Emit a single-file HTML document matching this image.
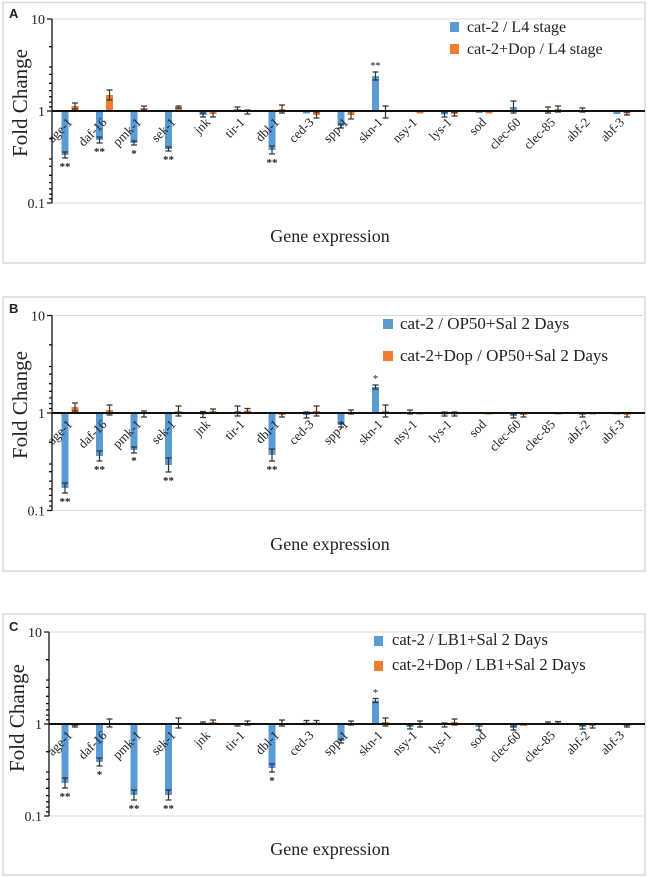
<!DOCTYPE html>
<html><head><meta charset="utf-8"><style>
html,body{margin:0;padding:0;background:#fff}
svg{display:block}
text{font-family:"Liberation Serif",serif;fill:#222}
.lab{font-size:13px}
.st{font-size:11px;font-weight:bold}
.bl{fill:#5b9bd5}.or{fill:#ed7d31}
.er{stroke:#333;stroke-width:1.2;fill:none}
</style></head><body>
<svg width="648" height="878" viewBox="0 0 648 878" xmlns="http://www.w3.org/2000/svg">
<!-- frames -->
<rect x="3" y="2.5" width="642" height="260.5" fill="none" stroke="#d9d9d9" stroke-width="1.5"/>
<rect x="3" y="297" width="642" height="274" fill="none" stroke="#d9d9d9" stroke-width="1.5"/>
<rect x="3" y="614" width="642" height="261" fill="none" stroke="#d9d9d9" stroke-width="1.5"/>

<!-- ============ PANEL A ============ -->
<text x="9" y="18" style="font-family:'Liberation Sans',sans-serif;font-weight:bold;font-size:13px">A</text>
<g transform="translate(0,111)">
<line x1="52" y1="-92" x2="643" y2="-92" stroke="#d9d9d9"/>
<line x1="52" y1="92" x2="643" y2="92" stroke="#d9d9d9"/>
<path d="M52 -92V92M47 -92h5M47 0h5M47 92h5M49 -64.3h3M49 -44h3M49 -36.6h3M49 -27.7h3M49 -20.4h3M49 -14.2h3M49 -8.9h3M49 -4.2h3M49 27.7h3M49 48h3M49 55.4h3M49 64.3h3M49 71.6h3M49 77.8h3M49 83.1h3M49 87.8h3" stroke="#111" stroke-width="1.3" fill="none"/>
<text x="45" y="-87" text-anchor="end" font-size="14">10</text>
<text x="45" y="5" text-anchor="end" font-size="14">1</text>
<text x="45" y="97" text-anchor="end" font-size="14">0.1</text>
<text transform="translate(27,-8) rotate(-90)" text-anchor="middle" font-size="21">Fold Change</text>
<!-- bars -->
<rect class="bl" x="61.5" y="0" width="7" height="44"/><path class="er" d="M62 41h6M65 41V47M62 47h6"/>
<rect class="or" x="71.5" y="-5" width="7" height="5"/><path class="er" d="M72 -8h6M75 -8V-2M72 -2h6"/>
<rect class="bl" x="96" y="0" width="7" height="29"/><path class="er" d="M96.5 26h6M99.5 26V32M96.5 32h6"/>
<rect class="or" x="106" y="-16" width="7" height="16"/><path class="er" d="M106.5 -21h6M109.5 -21V-11M106.5 -11h6"/>
<rect class="bl" x="130.5" y="0" width="7" height="32"/><path class="er" d="M131 30h6M134 30V34M131 34h6"/>
<rect class="or" x="140.5" y="-3" width="7" height="3"/><path class="er" d="M141 -5h6M144 -5V-1M141 -1h6"/>
<rect class="bl" x="165" y="0" width="7" height="38"/><path class="er" d="M165.5 36h6M168.5 36V40M165.5 40h6"/>
<rect class="or" x="175" y="-4" width="7" height="4"/><path class="er" d="M175.5 -5h6M178.5 -5V-3M175.5 -3h6"/>
<rect class="bl" x="199.5" y="0" width="7" height="4"/><path class="er" d="M200 2h6M203 2V6M200 6h6"/>
<rect class="or" x="209.5" y="0" width="7" height="3"/><path class="er" d="M210 0h6M213 0V6M210 6h6"/>
<rect class="bl" x="234" y="-2" width="7" height="2"/><path class="er" d="M234.5 -4h6M237.5 -4V0M234.5 0h6"/>
<rect class="or" x="244" y="0" width="7" height="1"/><path class="er" d="M244.5 -1h6M247.5 -1V3M244.5 3h6"/>
<rect class="bl" x="268.5" y="0" width="7" height="39"/><path class="er" d="M269 35h6M272 35V43M269 43h6"/>
<rect class="or" x="278.5" y="-2" width="7" height="2"/><path class="er" d="M279 -6h6M282 -6V2M279 2h6"/>
<rect class="bl" x="303" y="0" width="7" height="2.5"/>
<rect class="or" x="313" y="0" width="7" height="4"/><path class="er" d="M313.5 1h6M316.5 1V7M313.5 7h6"/>
<rect class="bl" x="337.5" y="0" width="7" height="15"/><path class="er" d="M338 13h6M341 13V17M338 17h6"/>
<rect class="or" x="347.5" y="0" width="7" height="4"/><path class="er" d="M348 0h6M351 0V8M348 8h6"/>
<rect class="bl" x="372" y="-35" width="7" height="35"/><path class="er" d="M372.5 -39h6M375.5 -39V-31M372.5 -31h6"/>
<rect class="or" x="382" y="0" width="7" height="1"/><path class="er" d="M382.5 -5h6M385.5 -5V7M382.5 7h6"/>
<rect class="bl" x="406.5" y="0" width="7" height="1"/>
<rect class="or" x="416.5" y="0" width="7" height="2.5"/>
<rect class="bl" x="441" y="0" width="7" height="3.5"/><path class="er" d="M441.5 1h6M444.5 1V6M441.5 6h6"/>
<rect class="or" x="451" y="0" width="7" height="3"/><path class="er" d="M451.5 1h6M454.5 1V5M451.5 5h6"/>
<rect class="bl" x="475.5" y="0" width="7" height="2"/>
<rect class="or" x="485.5" y="0" width="7" height="2.5"/>
<rect class="bl" x="510" y="-4" width="7" height="4"/><path class="er" d="M510.5 -10h6M513.5 -10V2M510.5 2h6"/>
<rect class="or" x="520" y="0" width="7" height="1"/>
<rect class="bl" x="544.5" y="-1" width="7" height="1"/><path class="er" d="M545 -4h6M548 -4V2M545 2h6"/>
<rect class="or" x="554.5" y="-2" width="7" height="2"/><path class="er" d="M555 -5h6M558 -5V1M555 1h6"/>
<rect class="bl" x="579" y="-1" width="7" height="1"/><path class="er" d="M579.5 -3h6M582.5 -3V1M579.5 1h6"/>
<rect class="or" x="589" y="0" width="7" height="1"/>
<rect class="bl" x="613.5" y="0" width="7" height="3"/>
<rect class="or" x="623.5" y="0" width="7" height="2.5"/><path class="er" d="M624 1h6M627 1V4M624 4h6"/>
<line x1="52" y1="0" x2="645" y2="0" stroke="#111" stroke-width="2"/>
<!-- stars -->
<text class="st" x="65" y="59" text-anchor="middle">**</text>
<text class="st" x="99.5" y="44" text-anchor="middle">**</text>
<text class="st" x="134" y="46" text-anchor="middle">*</text>
<text class="st" x="168.5" y="52" text-anchor="middle">**</text>
<text class="st" x="272" y="55" text-anchor="middle">**</text>
<text x="375.5" y="-42" text-anchor="middle" font-size="10">**</text>
<!-- labels -->
<g class="lab" text-anchor="end">
<text transform="translate(73,12) rotate(-45)">age-1</text>
<text transform="translate(107.5,12) rotate(-45)">daf-16</text>
<text transform="translate(142,12) rotate(-45)">pmk-1</text>
<text transform="translate(176.5,12) rotate(-45)">sek-1</text>
<text transform="translate(211,12) rotate(-45)">jnk</text>
<text transform="translate(245.5,12) rotate(-45)">tir-1</text>
<text transform="translate(280,12) rotate(-45)">dbl-1</text>
<text transform="translate(314.5,12) rotate(-45)">ced-3</text>
<text transform="translate(349,12) rotate(-45)">spp-1</text>
<text transform="translate(383.5,12) rotate(-45)">skn-1</text>
<text transform="translate(418,12) rotate(-45)">nsy-1</text>
<text transform="translate(452.5,12) rotate(-45)">lys-1</text>
<text transform="translate(487,12) rotate(-45)">sod</text>
<text transform="translate(521.5,12) rotate(-45)">clec-60</text>
<text transform="translate(556,12) rotate(-45)">clec-85</text>
<text transform="translate(590.5,12) rotate(-45)">abf-2</text>
<text transform="translate(625,12) rotate(-45)">abf-3</text>
</g>
</g>
<text x="330" y="242" text-anchor="middle" font-size="18">Gene expression</text>
<rect class="bl" x="450" y="22" width="9" height="10"/>
<text x="467" y="32" font-size="16">cat-2 / L4 stage</text>
<rect class="or" x="450" y="44" width="9" height="10"/>
<text x="467" y="54" font-size="16">cat-2+Dop / L4 stage</text>

<!-- ============ PANEL B ============ -->
<text x="9" y="313" style="font-family:'Liberation Sans',sans-serif;font-weight:bold;font-size:13px">B</text>
<g transform="translate(0,413)">
<line x1="52" y1="-97.5" x2="643" y2="-97.5" stroke="#d9d9d9"/>
<line x1="52" y1="97.5" x2="643" y2="97.5" stroke="#d9d9d9"/>
<path d="M52 -97.5V97.5M47 -97.5h5M47 0h5M47 97.5h5M49 -68.2h3M49 -46.5h3M49 -38.8h3M49 -29.3h3M49 -21.6h3M49 -15.1h3M49 -9.4h3M49 -4.5h3M49 29.3h3M49 51h3M49 58.7h3M49 68.2h3M49 75.9h3M49 82.4h3M49 88.1h3M49 93h3" stroke="#111" stroke-width="1.3" fill="none"/>
<text x="45" y="-92.5" text-anchor="end" font-size="14">10</text>
<text x="45" y="5" text-anchor="end" font-size="14">1</text>
<text x="45" y="102.5" text-anchor="end" font-size="14">0.1</text>
<text transform="translate(27,-8) rotate(-90)" text-anchor="middle" font-size="21">Fold Change</text>
<rect class="bl" x="61.5" y="0" width="7" height="75"/><path class="er" d="M62 70h6M65 70V80M62 80h6"/>
<rect class="or" x="71.5" y="-6" width="7" height="6"/><path class="er" d="M72 -10h6M75 -10V-2M72 -2h6"/>
<rect class="bl" x="96" y="0" width="7" height="43"/><path class="er" d="M96.5 38h6M99.5 38V48M96.5 48h6"/>
<rect class="or" x="106" y="-3" width="7" height="3"/><path class="er" d="M106.5 -8h6M109.5 -8V2M106.5 2h6"/>
<rect class="bl" x="130.5" y="0" width="7" height="37"/><path class="er" d="M131 34h6M134 34V40M131 40h6"/>
<rect class="or" x="140.5" y="0" width="7" height="1"/><path class="er" d="M141 -2h6M144 -2V4M141 4h6"/>
<rect class="bl" x="165" y="0" width="7" height="52"/><path class="er" d="M165.5 45h6M168.5 45V59M165.5 59h6"/>
<rect class="or" x="175" y="-2" width="7" height="2"/><path class="er" d="M175.5 -7h6M178.5 -7V3M175.5 3h6"/>
<rect class="bl" x="199.5" y="0" width="7" height="1.5"/><path class="er" d="M200 -1.5h6M203 -1.5V4.5M200 4.5h6"/>
<rect class="or" x="209.5" y="-2" width="7" height="2"/><path class="er" d="M210 -4h6M213 -4V0M210 0h6"/>
<rect class="bl" x="234" y="-2" width="7" height="2"/><path class="er" d="M234.5 -7h6M237.5 -7V3M234.5 3h6"/>
<rect class="or" x="244" y="-2.5" width="7" height="2.5"/><path class="er" d="M244.5 -4.5h6M247.5 -4.5V-0.5M244.5 -0.5h6"/>
<rect class="bl" x="268.5" y="0" width="7" height="42"/><path class="er" d="M269 36h6M272 36V48M269 48h6"/>
<rect class="or" x="278.5" y="0" width="7" height="2"/><path class="er" d="M279 0h6M282 0V4M279 4h6"/>
<rect class="bl" x="303" y="0" width="7" height="2"/><path class="er" d="M303.5 -1h6M306.5 -1V5M303.5 5h6"/>
<rect class="or" x="313" y="-2" width="7" height="2"/><path class="er" d="M313.5 -7h6M316.5 -7V3M313.5 3h6"/>
<rect class="bl" x="337.5" y="0" width="7" height="12"/><path class="er" d="M338 10h6M341 10V14M338 14h6"/>
<rect class="or" x="347.5" y="-1" width="7" height="1"/><path class="er" d="M348 -3h6M351 -3V1M348 1h6"/>
<rect class="bl" x="372" y="-26" width="7" height="26"/><path class="er" d="M372.5 -28h6M375.5 -28V-24M372.5 -24h6"/>
<rect class="or" x="382" y="-2" width="7" height="2"/><path class="er" d="M382.5 -8h6M385.5 -8V4M382.5 4h6"/>
<rect class="bl" x="406.5" y="-1" width="7" height="1"/><path class="er" d="M407 -3h6M410 -3V1M407 1h6"/>
<rect class="or" x="416.5" y="0" width="7" height="1.5"/>
<rect class="bl" x="441" y="0" width="7" height="1.5"/><path class="er" d="M441.5 -1h6M444.5 -1V3M441.5 3h6"/>
<rect class="or" x="451" y="0" width="7" height="1.5"/><path class="er" d="M451.5 -1h6M454.5 -1V3M451.5 3h6"/>
<rect class="bl" x="475.5" y="0" width="7" height="1"/>
<rect class="or" x="485.5" y="0" width="7" height="1.5"/>
<rect class="bl" x="510" y="0" width="7" height="3"/><path class="er" d="M510.5 1h6M513.5 1V5M510.5 5h6"/>
<rect class="or" x="520" y="0" width="7" height="2"/><path class="er" d="M520.5 0h6M523.5 0V4M520.5 4h6"/>
<rect class="bl" x="544.5" y="0" width="7" height="1"/>
<rect class="or" x="554.5" y="0" width="7" height="1.5"/>
<rect class="bl" x="579" y="0" width="7" height="2"/><path class="er" d="M579.5 0h6M582.5 0V4M579.5 4h6"/>
<rect class="or" x="589" y="0" width="7" height="1.5"/>
<rect class="bl" x="613.5" y="0" width="7" height="1.5"/>
<rect class="or" x="623.5" y="0" width="7" height="2"/><path class="er" d="M624 0h6M627 0V4M624 4h6"/>
<line x1="52" y1="0" x2="645" y2="0" stroke="#111" stroke-width="2"/>
<text class="st" x="65" y="92" text-anchor="middle">**</text>
<text class="st" x="99.5" y="60" text-anchor="middle">**</text>
<text class="st" x="134" y="51" text-anchor="middle">*</text>
<text class="st" x="168.5" y="71" text-anchor="middle">**</text>
<text class="st" x="272" y="60" text-anchor="middle">**</text>
<text x="375.5" y="-31" text-anchor="middle" font-size="11">*</text>
<g class="lab" text-anchor="end">
<text transform="translate(73,12) rotate(-45)">age-1</text>
<text transform="translate(107.5,12) rotate(-45)">daf-16</text>
<text transform="translate(142,12) rotate(-45)">pmk-1</text>
<text transform="translate(176.5,12) rotate(-45)">sek-1</text>
<text transform="translate(211,12) rotate(-45)">jnk</text>
<text transform="translate(245.5,12) rotate(-45)">tir-1</text>
<text transform="translate(280,12) rotate(-45)">dbl-1</text>
<text transform="translate(314.5,12) rotate(-45)">ced-3</text>
<text transform="translate(349,12) rotate(-45)">spp-1</text>
<text transform="translate(383.5,12) rotate(-45)">skn-1</text>
<text transform="translate(418,12) rotate(-45)">nsy-1</text>
<text transform="translate(452.5,12) rotate(-45)">lys-1</text>
<text transform="translate(487,12) rotate(-45)">sod</text>
<text transform="translate(521.5,12) rotate(-45)">clec-60</text>
<text transform="translate(556,12) rotate(-45)">clec-85</text>
<text transform="translate(590.5,12) rotate(-45)">abf-2</text>
<text transform="translate(625,12) rotate(-45)">abf-3</text>
</g>
</g>
<text x="330" y="550" text-anchor="middle" font-size="18">Gene expression</text>
<rect class="bl" x="383" y="319" width="10" height="10"/>
<text x="400" y="329" font-size="17">cat-2 / OP50+Sal 2 Days</text>
<rect class="or" x="383" y="351" width="10" height="10"/>
<text x="400" y="361" font-size="17">cat-2+Dop / OP50+Sal 2 Days</text>

<!-- ============ PANEL C ============ -->
<text x="9" y="631" style="font-family:'Liberation Sans',sans-serif;font-weight:bold;font-size:13px">C</text>
<g transform="translate(0,724)">
<line x1="49" y1="-92" x2="643" y2="-92" stroke="#d9d9d9"/>
<line x1="49" y1="92" x2="643" y2="92" stroke="#d9d9d9"/>
<path d="M49 -92V92M44 -92h5M44 0h5M44 92h5M46 -64.3h3M46 -44h3M46 -36.6h3M46 -27.7h3M46 -20.4h3M46 -14.2h3M46 -8.9h3M46 -4.2h3M46 27.7h3M46 48h3M46 55.4h3M46 64.3h3M46 71.6h3M46 77.8h3M46 83.1h3M46 87.8h3" stroke="#111" stroke-width="1.3" fill="none"/>
<text x="42" y="-87" text-anchor="end" font-size="14">10</text>
<text x="42" y="5" text-anchor="end" font-size="14">1</text>
<text x="42" y="97" text-anchor="end" font-size="14">0.1</text>
<text transform="translate(24,-6) rotate(-90)" text-anchor="middle" font-size="21">Fold Change</text>
<rect class="bl" x="61.5" y="0" width="7" height="59"/><path class="er" d="M62 54h6M65 54V64M62 64h6"/>
<rect class="or" x="71.5" y="0" width="7" height="2"/><path class="er" d="M72 1h6M75 1V3M72 3h6"/>
<rect class="bl" x="96" y="0" width="7" height="38"/><path class="er" d="M96.5 34h6M99.5 34V42M96.5 42h6"/>
<rect class="or" x="106" y="-1" width="7" height="1"/><path class="er" d="M106.5 -5h6M109.5 -5V3M106.5 3h6"/>
<rect class="bl" x="130.5" y="0" width="7" height="71"/><path class="er" d="M131 66h6M134 66V76M131 76h6"/>
<rect class="or" x="140.5" y="0" width="7" height="1"/>
<rect class="bl" x="165" y="0" width="7" height="71"/><path class="er" d="M165.5 66h6M168.5 66V76M165.5 76h6"/>
<rect class="or" x="175" y="-1" width="7" height="1"/><path class="er" d="M175.5 -6h6M178.5 -6V4M175.5 4h6"/>
<rect class="bl" x="199.5" y="-1" width="7" height="1"/><path class="er" d="M200 -2h6M203 -2V0M200 0h6"/>
<rect class="or" x="209.5" y="-2" width="7" height="2"/><path class="er" d="M210 -4h6M213 -4V0M210 0h6"/>
<rect class="bl" x="234" y="0" width="7" height="1"/><path class="er" d="M234.5 0h6M237.5 0V2M234.5 2h6"/>
<rect class="or" x="244" y="-1" width="7" height="1"/><path class="er" d="M244.5 -3h6M247.5 -3V1M244.5 1h6"/>
<rect class="bl" x="268.5" y="0" width="7" height="44"/><path class="er" d="M269 40h6M272 40V48M269 48h6"/>
<rect class="or" x="278.5" y="-1" width="7" height="1"/><path class="er" d="M279 -4h6M282 -4V2M279 2h6"/>
<rect class="bl" x="303" y="-1.5" width="7" height="1.5"/><path class="er" d="M303.5 -3.5h6M306.5 -3.5V0.5M303.5 0.5h6"/>
<rect class="or" x="313" y="-1.5" width="7" height="1.5"/><path class="er" d="M313.5 -3.5h6M316.5 -3.5V0.5M313.5 0.5h6"/>
<rect class="bl" x="337.5" y="0" width="7" height="17"/><path class="er" d="M338 15h6M341 15V19M338 19h6"/>
<rect class="or" x="347.5" y="-1" width="7" height="1"/><path class="er" d="M348 -3h6M351 -3V1M348 1h6"/>
<rect class="bl" x="372" y="-23.5" width="7" height="23.5"/><path class="er" d="M372.5 -25.5h6M375.5 -25.5V-21.5M372.5 -21.5h6"/>
<rect class="or" x="382" y="-2" width="7" height="2"/><path class="er" d="M382.5 -6h6M385.5 -6V2M382.5 2h6"/>
<rect class="bl" x="406.5" y="0" width="7" height="3"/><path class="er" d="M407 1h6M410 1V5M407 5h6"/>
<rect class="or" x="416.5" y="0" width="7" height="0.5"/><path class="er" d="M417 -3h6M420 -3V3M417 3h6"/>
<rect class="bl" x="441" y="0" width="7" height="1"/><path class="er" d="M441.5 -1h6M444.5 -1V3M441.5 3h6"/>
<rect class="or" x="451" y="-2" width="7" height="2"/><path class="er" d="M451.5 -5h6M454.5 -5V1M451.5 1h6"/>
<rect class="bl" x="475.5" y="0" width="7" height="3"/><path class="er" d="M476 0h6M479 0V6M476 6h6"/>
<rect class="or" x="485.5" y="-0.5" width="7" height="0.5"/>
<rect class="bl" x="510" y="0" width="7" height="4"/><path class="er" d="M510.5 2h6M513.5 2V6M510.5 6h6"/>
<rect class="or" x="520" y="0" width="7" height="2"/>
<rect class="bl" x="544.5" y="-1" width="7" height="1"/><path class="er" d="M545 -2h6M548 -2V0M545 0h6"/>
<rect class="or" x="554.5" y="-1.5" width="7" height="1.5"/><path class="er" d="M555 -2.5h6M558 -2.5V-0.5M555 -0.5h6"/>
<rect class="bl" x="579" y="0" width="7" height="3"/><path class="er" d="M579.5 1h6M582.5 1V5M579.5 5h6"/>
<rect class="or" x="589" y="0" width="7" height="2"/><path class="er" d="M589.5 0h6M592.5 0V4M589.5 4h6"/>
<rect class="bl" x="613.5" y="-1" width="7" height="1"/>
<rect class="or" x="623.5" y="0" width="7" height="2"/><path class="er" d="M624 1h6M627 1V3M624 3h6"/>
<line x1="49" y1="0" x2="645" y2="0" stroke="#111" stroke-width="2"/>
<text class="st" x="65" y="76" text-anchor="middle">**</text>
<text class="st" x="99.5" y="54" text-anchor="middle">*</text>
<text class="st" x="134" y="88" text-anchor="middle">**</text>
<text class="st" x="168.5" y="88" text-anchor="middle">**</text>
<text class="st" x="272" y="60" text-anchor="middle">*</text>
<text x="375.5" y="-28" text-anchor="middle" font-size="11">*</text>
<g class="lab" text-anchor="end">
<text transform="translate(73,12) rotate(-45)">age-1</text>
<text transform="translate(107.5,12) rotate(-45)">daf-16</text>
<text transform="translate(142,12) rotate(-45)">pmk-1</text>
<text transform="translate(176.5,12) rotate(-45)">sek-1</text>
<text transform="translate(211,12) rotate(-45)">jnk</text>
<text transform="translate(245.5,12) rotate(-45)">tir-1</text>
<text transform="translate(280,12) rotate(-45)">dbl-1</text>
<text transform="translate(314.5,12) rotate(-45)">ced-3</text>
<text transform="translate(349,12) rotate(-45)">spp-1</text>
<text transform="translate(383.5,12) rotate(-45)">skn-1</text>
<text transform="translate(418,12) rotate(-45)">nsy-1</text>
<text transform="translate(452.5,12) rotate(-45)">lys-1</text>
<text transform="translate(487,12) rotate(-45)">sod</text>
<text transform="translate(521.5,12) rotate(-45)">clec-60</text>
<text transform="translate(556,12) rotate(-45)">clec-85</text>
<text transform="translate(590.5,12) rotate(-45)">abf-2</text>
<text transform="translate(625,12) rotate(-45)">abf-3</text>
</g>
</g>
<text x="330" y="855" text-anchor="middle" font-size="18">Gene expression</text>
<rect class="bl" x="374" y="636" width="9" height="10"/>
<text x="392" y="645" font-size="16.5">cat-2 / LB1+Sal 2 Days</text>
<rect class="or" x="374" y="661" width="9" height="10"/>
<text x="392" y="670" font-size="16.5">cat-2+Dop / LB1+Sal 2 Days</text>
</svg>
</body></html>
